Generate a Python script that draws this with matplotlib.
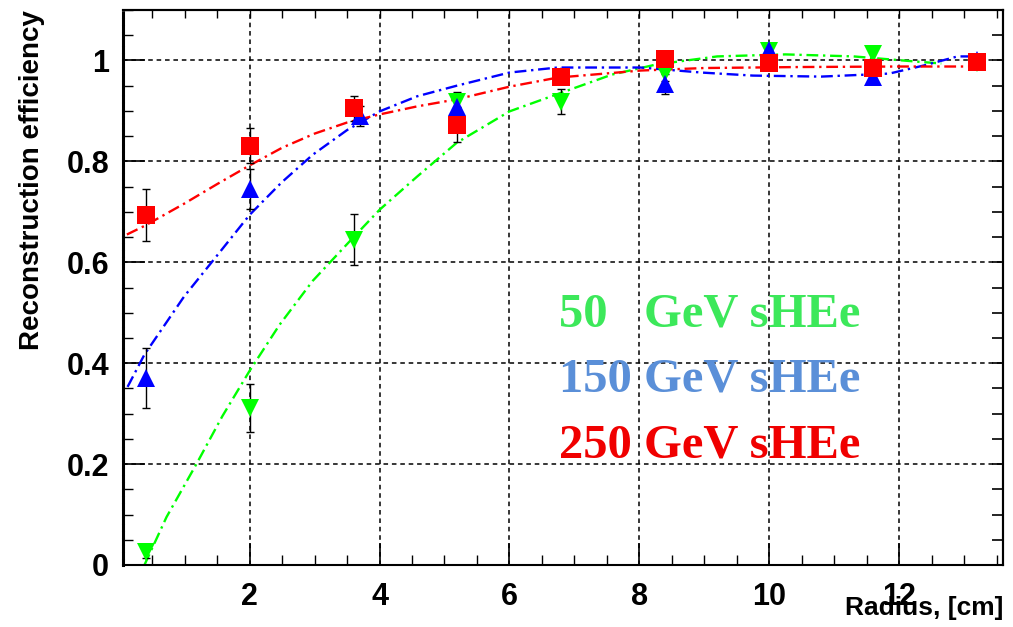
import matplotlib
matplotlib.use("Agg")
import matplotlib.pyplot as plt
from matplotlib.ticker import MultipleLocator, NullFormatter, FormatStrFormatter

# Measured efficiencies at each radius (cm), one series per energy
radius = [0.4, 2.0, 3.6, 5.2, 6.8, 8.4, 10.0, 11.6, 13.2]
radius_150 = [0.4, 2.0, 3.7, 5.2, 6.8, 8.4, 10.0, 11.6, 13.2]

eff_50 = [0.026, 0.311, 0.645, 0.917, 0.918, 0.975, 1.018, 1.013, 0.995]
err_50 = [0.012, 0.048, 0.050, 0.020, 0.025, 0.015, 0.010, 0.010, 0.008]

eff_150 = [0.371, 0.745, 0.890, 0.907, 0.970, 0.953, 1.020, 0.968, 1.000]
err_150 = [0.060, 0.040, 0.020, 0.020, 0.012, 0.020, 0.010, 0.010, 0.008]

eff_250 = [0.694, 0.831, 0.905, 0.873, 0.968, 1.002, 0.994, 0.985, 0.996]
err_250 = [0.052, 0.035, 0.025, 0.035, 0.010, 0.010, 0.008, 0.008, 0.006]

# Fitted trend curves, sampled along each fit
fit_x_50 = [0.38, 0.72, 1.18, 1.58, 2.0, 2.46, 2.97, 3.58, 4.0, 4.58, 5.19, 6.0,
            6.82, 7.58, 8.26, 9.2, 10.25, 11.3, 12.34, 12.65]
fit_y_50 = [0.0, 0.095, 0.20, 0.295, 0.385, 0.476, 0.563, 0.647, 0.704, 0.77,
            0.837, 0.899, 0.937, 0.972, 0.992, 1.008, 1.012, 1.008, 0.997, 0.994]

fit_x_150 = [0.12, 0.38, 0.99, 1.49, 2.0, 2.49, 2.97, 3.5, 4.0, 4.58, 5.19, 6.0,
             6.74, 8.02, 8.96, 9.75, 10.8, 11.85, 12.38, 12.9, 13.1]
fit_y_150 = [0.353, 0.417, 0.532, 0.612, 0.694, 0.758, 0.813, 0.862, 0.899,
             0.929, 0.950, 0.976, 0.986, 0.986, 0.976, 0.970, 0.968, 0.974,
             0.990, 1.008, 1.008]

fit_x_250 = [0.11, 0.38, 0.99, 1.5, 2.0, 2.5, 3.0, 3.5, 4.0, 4.58, 5.19, 6.0,
             6.74, 8.02, 9.0, 10.5, 12.0, 13.06]
fit_y_250 = [0.655, 0.672, 0.716, 0.755, 0.792, 0.827, 0.855, 0.877, 0.893,
             0.909, 0.923, 0.948, 0.966, 0.980, 0.985, 0.987, 0.988, 0.988]

labels = ["50   GeV sHEe", "150 GeV sHEe", "250 GeV sHEe"]
label_colors = ["#3ce85a", "#5a8fd8", "#f00000"]

GREEN, BLUE, RED = "#00ff00", "#0000ff", "#ff0000"

plt.rcParams["font.family"] = ["Liberation Sans", "DejaVu Sans"]

W, H = 1013, 627
fig = plt.figure(figsize=(W / 100, H / 100), dpi=100)
ax = fig.add_axes([123 / W, (H - 565) / H, 880 / W, 555 / H])

fit_style = dict(linestyle=(0, (5, 2, 1, 2)), linewidth=1.7, zorder=2)
ax.plot(fit_x_50, fit_y_50, color=GREEN, **fit_style)
ax.plot(fit_x_150, fit_y_150, color=BLUE, **fit_style)
ax.plot(fit_x_250, fit_y_250, color=RED, **fit_style)

series = [
    (radius, eff_50, err_50, "v", GREEN),
    (radius_150, eff_150, err_150, "^", BLUE),
    (radius, eff_250, err_250, "s", RED),
]
for xs, ys, es, marker, color in series:
    ax.errorbar(xs, ys, yerr=es, fmt="none", ecolor="black", elinewidth=1.0,
                capsize=3, capthick=1.0, zorder=3)
    ax.plot(xs, ys, linestyle="none", marker=marker, markersize=13,
            color=color, markeredgewidth=0, zorder=4)

ax.set_xlim(0.05, 13.6)
ax.set_ylim(0, 1.1)

ax.xaxis.set_major_locator(MultipleLocator(2))
ax.xaxis.set_minor_locator(MultipleLocator(0.5))
ax.yaxis.set_major_locator(MultipleLocator(0.2))
ax.yaxis.set_minor_locator(MultipleLocator(0.05))
ax.yaxis.set_major_formatter(FormatStrFormatter("%g"))

ax.tick_params(which="both", direction="in", colors="black")
ax.tick_params(which="major", length=16, width=1.2)
ax.tick_params(which="minor", length=7, width=1.0)
ax.tick_params(axis="x", which="major", pad=12, labelsize=22)
ax.tick_params(axis="y", which="major", pad=10, labelsize=22)
for lab in ax.get_xticklabels() + ax.get_yticklabels():
    lab.set_fontweight("bold")

# short ticks along the top and right edges
top = ax.secondary_xaxis("top")
top.xaxis.set_major_locator(MultipleLocator(2))
top.xaxis.set_minor_locator(MultipleLocator(0.5))
top.xaxis.set_major_formatter(NullFormatter())
top.tick_params(which="both", direction="in", length=6, width=1.0)
right = ax.secondary_yaxis("right")
right.yaxis.set_major_locator(MultipleLocator(0.2))
right.yaxis.set_minor_locator(MultipleLocator(0.05))
right.yaxis.set_major_formatter(NullFormatter())
right.tick_params(which="both", direction="in", length=8, width=1.2)

ax.grid(True, which="major", color="black", linestyle=(0, (3, 2.5)), linewidth=1.1)
for side in ["top", "right", "bottom"]:
    ax.spines[side].set_linewidth(1.5)
ax.spines["left"].set_linewidth(2.2)
ax.spines["left"].set_linestyle((0, (1.5, 0.8)))
top.spines["top"].set_linewidth(1.5)
right.spines["right"].set_linewidth(1.5)

fig.text(32 / W, 1 - 10 / H, "Reconstruction efficiency", rotation=90,
         ha="center", va="top", fontsize=20, fontweight="bold")
fig.text(1003 / W, 1 - 615 / H, "Radius, [cm]", ha="right", va="baseline",
         fontsize=19, fontweight="bold")

text_y = [0.472, 0.343, 0.214]
for label, color, ty in zip(labels, label_colors, text_y):
    ax.text(6.77, ty, label, color=color, ha="left", va="baseline",
            fontsize=35, fontweight="bold", family="Liberation Serif")

fig.savefig("out.png", dpi=100)
